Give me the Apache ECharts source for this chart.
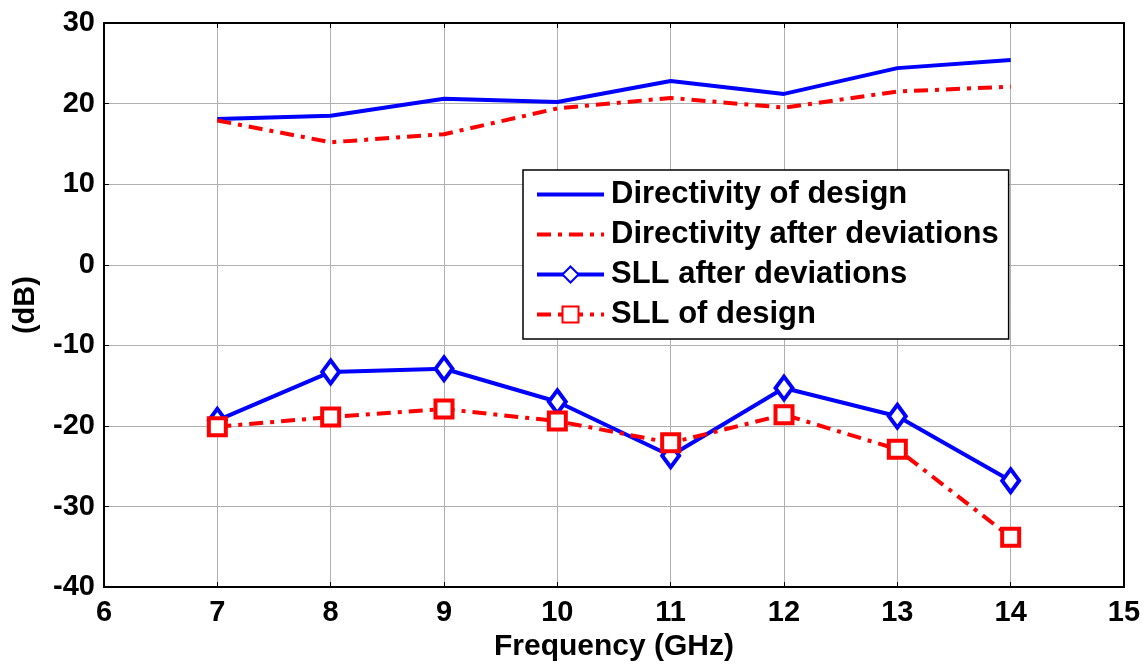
<!DOCTYPE html>
<html>
<head>
<meta charset="utf-8">
<script src="https://cdn.jsdelivr.net/npm/echarts@6/dist/echarts.min.js"></script>
<style>
html, body { margin: 0; padding: 0; background: #fff; }
#chart { width: 1148px; height: 667px; }
</style>
</head>
<body>
<div id="chart"></div>
<script>
var freq = [7, 8, 9, 10, 11, 12, 13, 14];
var dirDesign = [18.1, 18.5, 20.6, 20.2, 22.8, 21.2, 24.4, 25.4];
var dirDeviation = [17.9, 15.2, 16.2, 19.4, 20.7, 19.5, 21.5, 22.1];
var sllDeviation = [-19.3, -13.3, -12.9, -17.0, -23.7, -15.3, -18.8, -26.8];
var sllDesign = [-20.1, -18.9, -17.9, -19.4, -22.1, -18.6, -22.9, -33.8];

function pairs(ys) {
	return freq.map(function (x, i) { return [x, ys[i]]; });
}

var font = 'Liberation Sans, Arial, sans-serif';
var dashDot = [14, 7, 4, 7];

var chart = echarts.init(document.getElementById('chart'));

var baseX = {
	type: 'value', min: 6, max: 15, interval: 1,
	axisLine: { show: true, onZero: false, lineStyle: { color: '#000', width: 2 } },
	axisTick: { show: true, inside: true, length: 5, lineStyle: { color: '#000', width: 1 } },
	splitLine: { show: false }
};
var baseY = {
	type: 'value', min: -40, max: 30, interval: 10,
	axisLine: { show: true, onZero: false, lineStyle: { color: '#000', width: 2 } },
	axisTick: { show: true, inside: true, length: 5, lineStyle: { color: '#000', width: 1 } },
	splitLine: { show: false }
};

chart.setOption({
	animation: false,
	backgroundColor: '#fff',
	grid: { left: 104, right: 24, top: 23, bottom: 77, containLabel: false },
	xAxis: [
		echarts.util.merge({
			position: 'bottom',
			name: 'Frequency (GHz)', nameLocation: 'middle', nameGap: 41,
			nameTextStyle: { fontFamily: font, fontWeight: 'bold', fontSize: 30, color: '#000' },
			axisLabel: { fontFamily: font, fontWeight: 'bold', fontSize: 29, color: '#000', margin: 11 },
			splitLine: { show: true, lineStyle: { color: '#b0b0b0', width: 1 } }
		}, baseX, false),
		echarts.util.merge({ position: 'top', axisLabel: { show: false } }, baseX, false)
	],
	yAxis: [
		echarts.util.merge({
			position: 'left',
			name: '(dB)', nameLocation: 'middle', nameGap: 64,
			nameTextStyle: { fontFamily: font, fontWeight: 'bold', fontSize: 29, color: '#000' },
			axisLabel: { fontFamily: font, fontWeight: 'bold', fontSize: 29, color: '#000', margin: 9 },
			splitLine: { show: true, lineStyle: { color: '#b0b0b0', width: 1 } }
		}, baseY, false),
		echarts.util.merge({ position: 'right', axisLabel: { show: false } }, baseY, false)
	],
	legend: {
		orient: 'vertical',
		left: 523, top: 170,
		padding: [9, 10, 9, 12],
		itemGap: 9,
		itemWidth: 67, itemHeight: 20,
		backgroundColor: '#fff',
		borderColor: '#000', borderWidth: 1.5, borderRadius: 0,
		textStyle: { fontFamily: font, fontWeight: 'bold', fontSize: 31, color: '#000', padding: [0, 0, 0, 2] },
		data: [
			{ name: 'Directivity of design', itemStyle: { opacity: 0 }, lineStyle: { width: 4 } },
			{ name: 'Directivity after deviations', itemStyle: { opacity: 0 }, lineStyle: { width: 4 } },
			{ name: 'SLL after deviations', lineStyle: { width: 4 } },
			{ name: 'SLL of design', lineStyle: { width: 4 } }
		]
	},
	series: [
		{
			name: 'Directivity of design', type: 'line', data: pairs(dirDesign),
			showSymbol: false, symbol: 'none', color: '#0000ff',
			lineStyle: { color: '#0000ff', width: 4 }
		},
		{
			name: 'Directivity after deviations', type: 'line', data: pairs(dirDeviation),
			showSymbol: false, symbol: 'none', color: '#ff0000',
			lineStyle: { color: '#ff0000', width: 4, type: dashDot }
		},
		{
			name: 'SLL after deviations', type: 'line', data: pairs(sllDeviation),
			symbol: 'diamond', symbolSize: [17, 23], color: '#0000ff',
			itemStyle: { color: '#fff', borderColor: '#0000ff', borderWidth: 4 },
			lineStyle: { color: '#0000ff', width: 4 }
		},
		{
			name: 'SLL of design', type: 'line', data: pairs(sllDesign),
			symbol: 'rect', symbolSize: 17, color: '#ff0000',
			itemStyle: { color: '#fff', borderColor: '#ff0000', borderWidth: 4 },
			lineStyle: { color: '#ff0000', width: 4, type: dashDot }
		}
	]
});
</script>
</body>
</html>
